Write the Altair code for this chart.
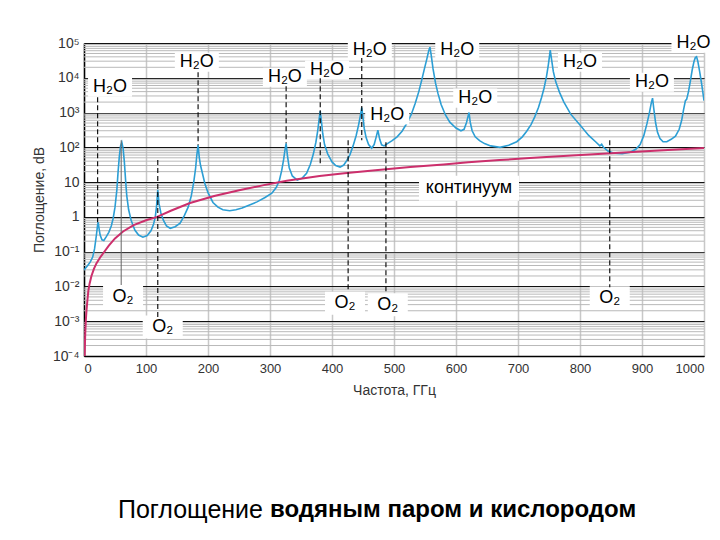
import altair as alt
import pandas as pd

# ---- absorption by water vapour + oxygen (blue) ----
blue_freq = [0, 5, 10, 14, 17, 20, 22, 23, 24, 26, 29, 32, 36, 40, 44, 47, 50, 53, 55, 57, 59, 61, 63, 65, 67, 69, 72, 76,
             82, 88, 95, 102, 108, 112, 115, 117, 119, 121, 124, 128, 133, 139, 147, 155, 162, 168, 173, 177, 180, 182,
             184, 186, 188, 191, 195, 200, 208, 216, 224, 235, 245, 255, 267, 279, 292, 303, 310, 315, 319, 322, 324,
             326, 328, 331, 336, 344, 352, 359, 365, 370, 374, 377, 379, 381, 383, 385, 388, 393, 400, 406, 413, 419,
             424, 429, 434, 439, 443, 446, 448, 450, 452, 455, 459, 464, 468, 471, 474, 477, 480, 484, 490, 497, 505,
             513, 521, 528, 534, 540, 545, 549, 553, 556, 558, 560, 563, 567, 571, 576, 583, 590, 600, 608, 613, 617,
             621, 623, 626, 631, 638, 646, 656, 671, 685, 698, 707, 714, 721, 727, 733, 738, 742, 746, 749, 751, 752,
             754, 757, 761, 767, 774, 785, 800, 814, 826, 832, 835, 838, 845, 855, 868, 881, 890, 897, 903, 908, 912,
             915, 917, 919, 922, 925, 929, 934, 940, 947, 954, 960, 964, 967, 970, 972, 975, 978, 981, 984, 986, 988,
             990, 993, 996, 998, 1000]
blue_val = [0.03, 0.038, 0.05, 0.07, 0.12, 0.3, 0.6, 0.7, 0.5, 0.3, 0.22, 0.21, 0.27, 0.36, 0.55, 0.9, 1.9, 6, 20, 55,
            110, 140, 95, 40, 12, 4, 1.6, 0.8, 0.42, 0.3, 0.26, 0.29, 0.4, 0.6, 1.0, 2.0, 6, 2.4, 1.3, 0.8, 0.55, 0.47,
            0.52, 0.66, 1.1, 1.9, 4, 10, 25, 60, 115, 50, 30, 18, 9, 5, 2.6, 1.9, 1.6, 1.5, 1.6, 1.8, 2.2, 2.7, 3.6,
            4.8, 7, 11, 22, 45, 80, 130, 60, 26, 15, 11.5, 13, 18, 32, 65, 140, 300, 600, 1100, 550, 250, 120, 65, 38,
            30, 27, 31, 42, 62, 110, 220, 450, 850, 1400, 700, 350, 190, 120, 95, 120, 190, 310, 170, 118, 110, 130,
            155, 200, 290, 500, 900, 1800, 4000, 9000, 18000, 35000, 60000, 76000, 45000, 18000, 7000, 3500, 1700,
            850, 530, 360, 300, 330, 520, 1000, 520, 300, 200, 155, 128, 110, 100, 115, 145, 200, 290, 450, 750, 1400,
            2700, 5000, 11000, 24000, 45000, 62000, 35000, 15000, 7500, 3800, 2000, 900, 440, 220, 140, 110, 122,
            100, 78, 68, 66, 72, 88, 120, 220, 480, 1000, 1900, 2600, 1300, 500, 270, 180, 145, 145, 170, 210, 330,
            600, 1200, 2200, 2400, 4000, 8000, 17000, 30000, 38000, 40000, 30000, 15000, 7000, 4000, 2200]

# ---- continuum (magenta) ----
cont_freq = [1, 2, 3, 4, 5.5, 7, 9, 12, 16, 20, 26, 31, 40, 50, 63, 80, 100, 118, 140, 171, 210, 252, 290, 327, 380,
             420, 470, 526, 580, 620, 670, 719, 780, 850, 920, 1000]
cont_val = [1.0e-4, 4.5e-4, 1.1e-3, 2.0e-3, 4e-3, 0.0075, 0.012, 0.02, 0.032, 0.046, 0.068, 0.09, 0.15, 0.24, 0.38,
            0.58, 0.8, 1.0, 1.5, 2.5, 4.0, 5.9, 8.2, 11, 15, 18, 22, 27, 32, 37, 43, 49, 57, 68, 80, 96]

# ---- annotations ----
h2o_freq = [42, 182, 324, 392, 461, 489, 602, 631, 800, 916, 983]
h2o_val = [5370, 28000, 10400, 16600, 62000, 845, 62000, 2600, 28000, 7450, 98000]
o2_freq = [63, 127, 421, 490, 848]
o2_val = [0.005, 0.00068, 0.0033, 0.003, 0.0047]
cont_label_freq = [621]
cont_label_val = [6.7]
dash_freq = [22, 119, 184, 326, 381, 426, 448, 487, 848]
dash_top = [2750, 43, 14500, 5700, 9700, 160, 37000, 140, 160]
dash_bottom = [0.66, 0.0012, 115, 130, 35, 0.007, 160, 0.0065, 0.0095]
solid_freq = [60]
solid_top = [160]
solid_bottom = [0.011]

y_ticks = [1e-4, 1e-3, 1e-2, 1e-1, 1, 10, 1e2, 1e3, 1e4, 1e5]
x_ticks = [0, 100, 200, 300, 400, 500, 600, 700, 800, 900, 1000]
minor_ticks = [k * 10.0 ** e for e in range(-4, 5) for k in range(2, 10)]

FONT = "Liberation Sans"
W, H = 620, 313

xs = alt.Scale(domain=[0, 1000], nice=False, zero=False)
ys = alt.Scale(type="log", domain=[1e-4, 1e5], nice=False)

label_expr = ("datum.value > 50000 ? '10⁵' : datum.value > 5000 ? '10⁴' : datum.value > 500 ? '10³' : "
              "datum.value > 50 ? '10²' : datum.value > 5 ? '10' : datum.value > 0.5 ? '1' : "
              "datum.value > 0.05 ? '10⁻¹' : datum.value > 0.005 ? '10⁻²' : datum.value > 0.0005 ? '10⁻³' : '10⁻⁴'")

X = alt.X("freq:Q", scale=xs, axis=alt.Axis(values=x_ticks, format="d", title="Частота, ГГц", grid=True,
                                            gridColor="#c8c8c8", gridWidth=1.5, ticks=False, labelPadding=6,
                                            labelFontSize=13, titleFontSize=14, titleFontWeight="normal",
                                            titlePadding=8, labelColor="#333", titleColor="#333", labelFont=FONT,
                                            titleFont=FONT, domainColor="black", domainWidth=1.5))
Y = alt.Y("val:Q", scale=ys, axis=alt.Axis(values=y_ticks, labelExpr=label_expr, title="Поглощение, dB", grid=True,
                                           gridColor="#111", gridWidth=1.2, ticks=False, labelPadding=5,
                                           labelFontSize=14, titleFontSize=14, titleFontWeight="normal",
                                           titlePadding=6, labelColor="#333", titleColor="#333", labelFont=FONT,
                                           titleFont=FONT, domainColor="black", domainWidth=1.5))

minor = alt.Chart(pd.DataFrame({"val": minor_ticks})).mark_rule(color="#b9b9b9", strokeWidth=1).encode(
    y=alt.Y("val:Q", scale=ys))

h2o_df = pd.DataFrame({"freq": h2o_freq, "val": h2o_val, "t": ["H₂O"] * len(h2o_freq)})
o2_df = pd.DataFrame({"freq": o2_freq, "val": o2_val, "t": ["O₂"] * len(o2_freq)})
cl_df = pd.DataFrame({"freq": cont_label_freq, "val": cont_label_val, "t": ["континуум"]})

def box(df, w, h):
    r = h / w
    path = f"M-1,-{r:.3f}L1,-{r:.3f}L1,{r:.3f}L-1,{r:.3f}Z"
    return alt.Chart(df).mark_point(shape=path, size=w * w, filled=True, fill="white", opacity=1,
                                    strokeWidth=0).encode(x=alt.X("freq:Q", scale=xs), y=alt.Y("val:Q", scale=ys))

boxes = box(h2o_df, 44, 19) + box(o2_df, 40, 23) + box(cl_df, 100, 25)

cont = alt.Chart(pd.DataFrame({"freq": cont_freq, "val": cont_val})).mark_line(
    color="#cc2f6c", strokeWidth=2, clip=True).encode(x=alt.X("freq:Q", scale=xs), y=alt.Y("val:Q", scale=ys))

blue = alt.Chart(pd.DataFrame({"freq": blue_freq, "val": blue_val})).mark_line(
    color="#2c9ed4", strokeWidth=1.6, clip=True).encode(x=X, y=Y)

dashed = alt.Chart(pd.DataFrame({"freq": dash_freq, "val": dash_top, "v2": dash_bottom})).mark_rule(
    color="black", strokeWidth=1.1, strokeDash=[5, 3]).encode(
    x=alt.X("freq:Q", scale=xs), y=alt.Y("val:Q", scale=ys), y2="v2:Q")

solid = alt.Chart(pd.DataFrame({"freq": solid_freq, "val": solid_top, "v2": solid_bottom})).mark_rule(
    color="#666", strokeWidth=1).encode(x=alt.X("freq:Q", scale=xs), y=alt.Y("val:Q", scale=ys), y2="v2:Q")

def labels(df):
    return alt.Chart(df).mark_text(font=FONT, fontSize=18, color="black", align="center", baseline="middle").encode(
        x=alt.X("freq:Q", scale=xs), y=alt.Y("val:Q", scale=ys), text="t:N")

texts = labels(h2o_df) + labels(o2_df) + labels(cl_df)

cap1 = alt.Chart(pd.DataFrame({"t": ["Поглощение"]})).mark_text(
    font=FONT, fontSize=25, align="right", baseline="middle", color="black").encode(
    x=alt.value(179), y=alt.value(467), text="t:N")
cap2 = alt.Chart(pd.DataFrame({"t": ["водяным  паром и кислородом"]})).mark_text(
    font=FONT, fontSize=24, fontWeight="bold", align="left", baseline="middle", color="black").encode(
    x=alt.value(186), y=alt.value(467), text="t:N")

chart = alt.layer(minor, blue, boxes, cont, dashed, solid, texts, cap1, cap2).properties(
    width=W, height=H,
    autosize=alt.AutoSizeParams(type="none"),
    padding={"left": 76, "top": 35, "right": 8, "bottom": 170},
).configure_view(stroke="black", strokeWidth=1.5).configure(background="white")

chart.save("out.html", embed_options={"renderer": "svg", "actions": False})
